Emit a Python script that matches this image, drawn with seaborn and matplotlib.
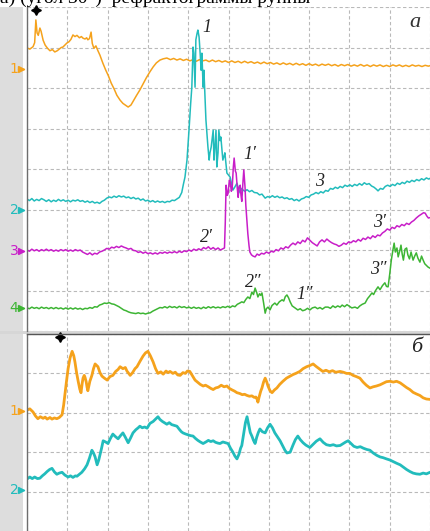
import matplotlib
matplotlib.use("Agg")
import matplotlib.pyplot as plt
from matplotlib.patches import Rectangle
import matplotlib.transforms as mtransforms
import pandas as pd
import seaborn as sns

sns.set_theme(style="white")
plt.rcParams["font.family"] = ["DejaVu Sans"]

# ---- panel "a": four channels, (time [div], level [div]) ----
ch1_a = [(0.00,6.99),(0.07,6.96),(0.15,7.02),(0.19,7.12),(0.22,7.68),(0.25,7.36),(0.28,7.30),(0.32,7.48),
         (0.35,7.40),(0.40,7.18),(0.45,7.06),(0.51,6.98),(0.57,6.92),(0.63,6.95),(0.69,6.89),(0.75,6.92),
         (0.80,6.96),(0.85,7.00),(0.89,7.01),(0.94,7.06),(0.99,7.11),(1.04,7.14),(1.09,7.20),(1.14,7.31),
         (1.19,7.27),(1.24,7.30),(1.30,7.24),(1.35,7.27),(1.39,7.23),(1.44,7.21),(1.48,7.24),(1.51,7.19),
         (1.55,7.22),(1.59,7.38),(1.62,7.10),(1.66,6.98),(1.71,7.04),(1.76,6.92),(1.81,6.81),(1.88,6.62),
         (1.95,6.45),(2.02,6.30),(2.09,6.12),(2.16,5.98),(2.23,5.82),(2.31,5.70),(2.38,5.62),(2.45,5.57),
         (2.51,5.53),(2.58,5.58),(2.65,5.70),(2.72,5.82),(2.80,5.95),(2.88,6.10),(2.96,6.25),(3.05,6.40),
         (3.13,6.52),(3.21,6.62),(3.30,6.69),(3.38,6.72),(3.47,6.74),(3.56,6.70),(3.64,6.73),(3.72,6.69),
         (3.80,6.72),(3.88,6.68),(3.96,6.71),(4.04,6.67),(4.12,6.70),(4.20,6.66),(4.28,6.70),(4.36,6.67),
         (4.44,6.69),(4.52,6.65),(4.60,6.69),(4.68,6.65),(4.76,6.68),(4.84,6.64),(4.92,6.67),(5.00,6.63),
         (5.08,6.67),(5.16,6.63),(5.24,6.66),(5.32,6.62),(5.40,6.66),(5.48,6.62),(5.56,6.65),(5.64,6.61),
         (5.72,6.64),(5.80,6.60),(5.88,6.64),(5.96,6.60),(6.04,6.63),(6.12,6.59),(6.20,6.62),(6.28,6.58),
         (6.36,6.62),(6.44,6.58),(6.52,6.61),(6.60,6.57),(6.68,6.61),(6.76,6.57),(6.84,6.60),(6.92,6.56),
         (7.00,6.60),(7.08,6.56),(7.16,6.59),(7.24,6.55),(7.32,6.59),(7.40,6.56),(7.48,6.59),(7.56,6.55),
         (7.64,6.58),(7.72,6.54),(7.80,6.58),(7.88,6.55),(7.96,6.58),(8.04,6.54),(8.12,6.57),(8.20,6.54),
         (8.28,6.58),(8.36,6.54),(8.44,6.57),(8.52,6.53),(8.60,6.57),(8.68,6.54),(8.76,6.57),(8.84,6.53),
         (8.92,6.56),(9.00,6.53),(9.08,6.57),(9.16,6.54),(9.24,6.57),(9.32,6.53),(9.40,6.56),(9.48,6.53),
         (9.56,6.57),(9.64,6.54),(9.72,6.56),(9.80,6.53),(9.88,6.56),(9.96,6.54),(10.0,6.55)]

ch2_a = [(0.00,3.26),(0.06,3.22),(0.12,3.27),(0.18,3.21),(0.24,3.25),(0.30,3.22),(0.36,3.27),(0.42,3.24),
         (0.48,3.20),(0.54,3.24),(0.60,3.19),(0.66,3.23),(0.72,3.20),(0.78,3.25),(0.84,3.21),(0.90,3.24),
         (0.96,3.20),(1.02,3.23),(1.08,3.19),(1.14,3.23),(1.20,3.21),(1.26,3.24),(1.32,3.20),(1.38,3.22),
         (1.44,3.18),(1.50,3.21),(1.56,3.17),(1.62,3.20),(1.68,3.16),(1.74,3.18),(1.80,3.15),(1.86,3.20),
         (1.92,3.23),(1.98,3.28),(2.04,3.31),(2.10,3.29),(2.16,3.33),(2.22,3.30),(2.28,3.34),(2.34,3.31),
         (2.40,3.33),(2.46,3.29),(2.52,3.31),(2.58,3.27),(2.64,3.30),(2.70,3.26),(2.76,3.28),(2.82,3.23),
         (2.88,3.26),(2.94,3.21),(3.00,3.23),(3.06,3.19),(3.12,3.22),(3.18,3.18),(3.24,3.21),(3.30,3.18),
         (3.36,3.20),(3.42,3.17),(3.48,3.20),(3.54,3.19),(3.60,3.23),(3.66,3.22),(3.72,3.26),(3.78,3.30),
         (3.84,3.42),(3.88,3.62),(3.92,3.80),(3.97,4.22),(4.02,4.96),(4.06,5.60),(4.09,6.02),(4.12,7.01),
         (4.14,6.86),(4.17,6.02),(4.19,7.19),(4.22,7.35),(4.24,7.43),(4.27,7.26),(4.30,6.80),(4.32,6.44),
         (4.34,6.86),(4.37,6.02),(4.39,6.44),(4.42,5.70),(4.44,5.21),(4.47,4.80),(4.49,4.54),(4.52,4.22),
         (4.54,4.40),(4.57,4.54),(4.60,4.80),(4.62,4.96),(4.64,4.22),(4.66,4.50),(4.69,4.96),(4.71,4.05),
         (4.74,4.40),(4.76,4.96),(4.79,4.70),(4.81,4.79),(4.84,4.45),(4.86,4.22),(4.89,4.32),(4.91,4.40),
         (4.94,4.10),(4.96,3.90),(5.00,3.85),(5.04,3.80),(5.08,3.62),(5.11,3.48),(5.16,3.56),(5.21,3.65),
         (5.25,3.50),(5.29,3.41),(5.33,3.52),(5.36,3.48),(5.41,3.45),(5.46,3.49),(5.52,3.44),(5.58,3.47),
         (5.64,3.42),(5.71,3.41),(5.77,3.36),(5.83,3.38),(5.91,3.28),(5.97,3.32),(6.03,3.30),(6.09,3.34),
         (6.15,3.30),(6.21,3.33),(6.27,3.29),(6.33,3.31),(6.39,3.27),(6.45,3.29),(6.51,3.25),(6.57,3.27),
         (6.63,3.22),(6.69,3.25),(6.75,3.21),(6.81,3.26),(6.87,3.28),(6.93,3.32),(6.99,3.30),(7.05,3.36),
         (7.11,3.38),(7.17,3.42),(7.23,3.39),(7.29,3.44),(7.35,3.41),(7.41,3.47),(7.47,3.45),(7.53,3.52),
         (7.59,3.50),(7.65,3.55),(7.71,3.52),(7.77,3.57),(7.83,3.54),(7.89,3.60),(7.95,3.57),(8.01,3.61),
         (8.07,3.57),(8.13,3.62),(8.19,3.59),(8.25,3.64),(8.31,3.60),(8.37,3.66),(8.43,3.62),(8.49,3.64),
         (8.55,3.58),(8.61,3.55),(8.67,3.50),(8.71,3.46),(8.77,3.52),(8.83,3.50),(8.89,3.57),(8.95,3.60),
         (9.01,3.57),(9.07,3.62),(9.13,3.59),(9.19,3.65),(9.25,3.62),(9.31,3.67),(9.37,3.64),(9.43,3.70),
         (9.49,3.67),(9.55,3.72),(9.61,3.69),(9.67,3.74),(9.73,3.71),(9.79,3.76),(9.85,3.73),(9.91,3.78),
         (9.97,3.75),(10.0,3.77)]

ch3_a = [(0.00,2.00),(0.06,1.97),(0.12,2.02),(0.18,1.98),(0.24,2.01),(0.30,1.97),(0.36,2.01),(0.42,1.98),
         (0.48,2.02),(0.54,1.98),(0.60,2.01),(0.66,1.97),(0.72,2.00),(0.78,1.97),(0.84,2.01),(0.90,1.98),
         (0.96,2.01),(1.02,1.97),(1.08,2.00),(1.14,1.97),(1.20,2.01),(1.26,1.98),(1.32,2.00),(1.38,1.95),
         (1.44,1.92),(1.50,1.89),(1.56,1.93),(1.62,1.88),(1.68,1.92),(1.74,1.90),(1.80,1.95),(1.86,1.97),
         (1.92,2.00),(1.98,2.04),(2.04,2.02),(2.10,2.07),(2.16,2.05),(2.22,2.09),(2.28,2.06),(2.34,2.10),
         (2.40,2.07),(2.46,2.05),(2.52,2.02),(2.58,2.04),(2.64,1.99),(2.70,1.98),(2.76,1.94),(2.82,1.96),
         (2.88,1.92),(2.94,1.95),(3.00,1.91),(3.06,1.93),(3.12,1.90),(3.18,1.93),(3.24,1.90),(3.30,1.94),
         (3.36,1.92),(3.42,1.95),(3.48,1.92),(3.54,1.95),(3.60,1.93),(3.66,1.96),(3.72,1.93),(3.78,1.97),
         (3.84,1.94),(3.90,1.98),(3.96,1.96),(4.02,2.00),(4.08,1.97),(4.14,2.02),(4.20,1.99),(4.26,2.03),
         (4.32,2.00),(4.38,2.06),(4.44,2.03),(4.50,2.08),(4.56,2.02),(4.62,2.06),(4.68,2.01),(4.74,2.05),
         (4.80,2.00),(4.86,2.03),(4.90,2.05),(4.92,2.67),(4.94,3.60),(4.97,3.35),(4.99,3.40),(5.02,3.72),
         (5.04,3.70),(5.07,3.45),(5.09,3.50),(5.12,4.05),(5.14,4.27),(5.17,3.95),(5.19,3.90),(5.22,3.50),
         (5.24,3.30),(5.26,3.55),(5.29,3.60),(5.31,3.35),(5.33,3.20),(5.36,3.70),(5.38,3.98),(5.41,3.55),
         (5.43,3.10),(5.46,2.70),(5.48,2.40),(5.51,2.10),(5.53,1.95),(5.57,1.88),(5.61,1.85),(5.66,1.83),
         (5.71,1.90),(5.76,1.87),(5.82,1.92),(5.88,1.90),(5.94,1.95),(6.00,1.92),(6.06,1.97),(6.12,1.95),
         (6.18,2.01),(6.24,1.98),(6.30,2.05),(6.36,2.02),(6.42,2.08),(6.48,2.05),(6.54,2.12),(6.60,2.17),
         (6.66,2.13),(6.72,2.20),(6.78,2.16),(6.84,2.24),(6.90,2.20),(6.96,2.30),(7.02,2.24),(7.08,2.18),
         (7.14,2.14),(7.20,2.10),(7.26,2.20),(7.32,2.25),(7.38,2.20),(7.44,2.27),(7.50,2.22),(7.56,2.18),
         (7.62,2.15),(7.68,2.13),(7.74,2.09),(7.80,2.12),(7.86,2.17),(7.92,2.14),(7.98,2.20),(8.04,2.18),
         (8.10,2.23),(8.16,2.20),(8.22,2.26),(8.28,2.22),(8.34,2.29),(8.40,2.26),(8.46,2.32),(8.52,2.28),
         (8.58,2.35),(8.64,2.31),(8.70,2.37),(8.76,2.35),(8.82,2.42),(8.88,2.46),(8.94,2.52),(9.00,2.49),
         (9.06,2.56),(9.12,2.53),(9.18,2.60),(9.24,2.57),(9.30,2.63),(9.36,2.60),(9.42,2.66),(9.48,2.63),
         (9.54,2.69),(9.60,2.73),(9.66,2.79),(9.72,2.84),(9.78,2.88),(9.84,2.92),(9.88,2.91),(9.92,2.84),
         (9.96,2.79),(10.0,2.80)]

ch4_a = [(0.00,0.57),(0.06,0.55),(0.12,0.59),(0.18,0.56),(0.24,0.58),(0.30,0.55),(0.36,0.59),(0.42,0.56),
         (0.48,0.58),(0.54,0.55),(0.60,0.58),(0.66,0.55),(0.72,0.58),(0.78,0.55),(0.84,0.57),(0.90,0.54),
         (0.96,0.57),(1.02,0.54),(1.08,0.57),(1.14,0.54),(1.20,0.57),(1.26,0.54),(1.32,0.56),(1.38,0.53),
         (1.44,0.56),(1.50,0.55),(1.56,0.58),(1.62,0.56),(1.68,0.60),(1.74,0.59),(1.80,0.64),(1.86,0.66),
         (1.92,0.69),(1.98,0.68),(2.04,0.70),(2.10,0.67),(2.16,0.66),(2.22,0.63),(2.28,0.60),(2.34,0.56),
         (2.40,0.52),(2.46,0.50),(2.52,0.47),(2.58,0.45),(2.64,0.44),(2.70,0.43),(2.76,0.45),(2.82,0.43),
         (2.88,0.44),(2.94,0.42),(3.00,0.44),(3.06,0.45),(3.12,0.49),(3.18,0.52),(3.24,0.55),(3.30,0.58),
         (3.36,0.57),(3.42,0.60),(3.48,0.57),(3.54,0.61),(3.60,0.58),(3.66,0.60),(3.72,0.57),(3.78,0.61),
         (3.84,0.58),(3.90,0.60),(3.96,0.57),(4.02,0.59),(4.08,0.56),(4.14,0.59),(4.20,0.56),(4.26,0.58),
         (4.32,0.55),(4.38,0.59),(4.44,0.56),(4.50,0.60),(4.56,0.57),(4.62,0.60),(4.68,0.57),(4.74,0.59),
         (4.80,0.57),(4.86,0.60),(4.92,0.58),(4.98,0.61),(5.04,0.58),(5.10,0.62),(5.16,0.60),(5.22,0.66),
         (5.28,0.69),(5.33,0.72),(5.38,0.70),(5.43,0.78),(5.48,0.84),(5.53,0.80),(5.58,0.96),(5.62,0.90),
         (5.66,1.06),(5.70,0.95),(5.73,0.84),(5.77,0.92),(5.80,0.88),(5.83,0.94),(5.87,0.70),(5.91,0.44),
         (5.94,0.55),(5.98,0.59),(6.03,0.52),(6.08,0.63),(6.15,0.69),(6.20,0.64),(6.26,0.72),(6.33,0.77),
         (6.37,0.74),(6.41,0.85),(6.45,0.89),(6.49,0.82),(6.53,0.72),(6.58,0.62),(6.65,0.57),(6.72,0.52),
         (6.78,0.55),(6.84,0.50),(6.90,0.52),(6.96,0.56),(7.02,0.52),(7.08,0.57),(7.15,0.59),(7.21,0.55),
         (7.27,0.58),(7.33,0.54),(7.40,0.59),(7.47,0.59),(7.53,0.56),(7.59,0.62),(7.65,0.58),(7.71,0.62),
         (7.77,0.59),(7.82,0.64),(7.88,0.60),(7.94,0.65),(8.00,0.61),(8.06,0.57),(8.14,0.59),(8.20,0.56),
         (8.26,0.62),(8.32,0.66),(8.39,0.69),(8.45,0.80),(8.50,0.86),(8.56,0.94),(8.60,0.90),(8.65,1.00),
         (8.71,1.09),(8.76,1.02),(8.82,1.12),(8.88,1.19),(8.92,1.10),(8.96,1.09),(9.00,1.40),(9.04,1.75),
         (9.08,2.00),(9.11,2.17),(9.14,1.95),(9.18,2.05),(9.21,1.83),(9.25,1.98),(9.28,2.12),(9.31,1.90),
         (9.34,1.75),(9.38,2.02),(9.42,2.05),(9.45,1.88),(9.49,1.78),(9.53,1.95),(9.58,1.75),(9.62,1.85),
         (9.66,1.93),(9.70,1.80),(9.75,1.70),(9.79,1.85),(9.83,1.75),(9.87,1.66),(9.91,1.62),(9.95,1.58),
         (10.0,1.55)]

# ---- panel "б": two channels ----
ch1_b = [(0.00,3.07),(0.07,3.10),(0.12,3.05),(0.15,3.02),(0.21,2.92),(0.27,2.85),(0.33,2.90),(0.40,2.86),
         (0.45,2.89),(0.50,2.84),(0.57,2.88),(0.62,2.84),(0.68,2.87),(0.74,2.85),(0.80,2.88),(0.87,2.95),
         (0.91,3.20),(0.94,3.46),(0.98,3.80),(1.02,4.12),(1.07,4.40),(1.12,4.56),(1.16,4.45),(1.19,4.29),
         (1.23,4.02),(1.27,3.80),(1.31,3.60),(1.34,3.51),(1.37,3.75),(1.39,3.88),(1.42,3.95),(1.44,3.90),
         (1.47,3.78),(1.49,3.65),(1.51,3.56),(1.56,3.80),(1.61,3.95),(1.65,4.12),(1.69,4.24),(1.73,4.20),
         (1.76,4.17),(1.81,4.02),(1.86,3.93),(1.92,3.88),(1.99,3.83),(2.06,3.92),(2.13,3.95),(2.20,4.05),
         (2.26,4.10),(2.31,4.17),(2.38,4.12),(2.44,4.15),(2.48,4.06),(2.56,3.95),(2.62,4.02),(2.68,4.12),
         (2.73,4.17),(2.80,4.30),(2.88,4.44),(2.94,4.52),(3.00,4.56),(3.06,4.45),(3.13,4.29),(3.19,4.12),
         (3.25,4.00),(3.32,4.04),(3.38,3.98),(3.45,4.06),(3.50,4.02),(3.55,4.05),(3.62,4.00),(3.68,4.03),
         (3.74,3.96),(3.80,3.95),(3.87,4.02),(3.93,4.00),(3.98,4.06),(4.04,4.05),(4.10,3.95),(4.17,3.83),
         (4.23,3.78),(4.30,3.72),(4.37,3.68),(4.43,3.70),(4.50,3.66),(4.56,3.62),(4.62,3.59),(4.68,3.63),
         (4.75,3.65),(4.82,3.70),(4.89,3.66),(4.96,3.68),(5.02,3.62),(5.09,3.58),(5.15,3.55),(5.21,3.51),
         (5.28,3.49),(5.34,3.46),(5.40,3.47),(5.46,3.44),(5.52,3.42),(5.58,3.43),(5.64,3.39),(5.68,3.40),
         (5.71,3.34),(5.73,3.27),(5.76,3.40),(5.80,3.55),(5.83,3.63),(5.87,3.78),(5.91,3.88),(5.95,3.78),
         (5.98,3.68),(6.03,3.56),(6.08,3.51),(6.14,3.58),(6.20,3.63),(6.27,3.72),(6.35,3.80),(6.44,3.88),
         (6.53,3.93),(6.60,3.97),(6.67,4.00),(6.77,4.05),(6.85,4.12),(6.94,4.17),(7.02,4.20),(7.10,4.24),
         (7.17,4.18),(7.25,4.12),(7.34,4.05),(7.42,4.08),(7.50,4.04),(7.58,4.07),(7.66,4.03),(7.77,4.05),
         (7.85,4.03),(7.93,4.00),(8.01,4.00),(8.09,3.95),(8.17,3.92),(8.26,3.88),(8.34,3.78),(8.42,3.70),
         (8.51,3.63),(8.59,3.66),(8.67,3.68),(8.76,3.71),(8.84,3.75),(8.92,3.79),(9.01,3.80),(9.09,3.78),
         (9.17,3.80),(9.26,3.76),(9.34,3.70),(9.42,3.64),(9.50,3.59),(9.58,3.52),(9.66,3.48),(9.75,3.44),
         (9.83,3.38),(9.91,3.35),(10.0,3.34)]

ch2_b = [(0.00,1.32),(0.07,1.37),(0.13,1.33),(0.19,1.37),(0.26,1.33),(0.32,1.34),(0.38,1.40),(0.44,1.45),
         (0.50,1.51),(0.56,1.56),(0.62,1.59),(0.68,1.50),(0.74,1.44),(0.80,1.47),(0.87,1.49),(0.94,1.42),
         (1.02,1.37),(1.08,1.40),(1.14,1.36),(1.20,1.40),(1.24,1.39),(1.30,1.44),(1.36,1.49),(1.43,1.58),
         (1.49,1.68),(1.55,1.85),(1.61,2.05),(1.65,1.98),(1.69,1.88),(1.74,1.68),(1.78,1.80),(1.81,1.93),
         (1.85,2.10),(1.89,2.29),(1.95,2.26),(2.01,2.22),(2.07,2.35),(2.13,2.46),(2.19,2.40),(2.26,2.34),
         (2.32,2.42),(2.38,2.49),(2.44,2.38),(2.51,2.24),(2.57,2.36),(2.63,2.49),(2.70,2.57),(2.76,2.62),
         (2.80,2.66),(2.86,2.62),(2.92,2.64),(2.98,2.61),(3.05,2.73),(3.13,2.78),(3.19,2.84),(3.25,2.90),
         (3.30,2.83),(3.36,2.78),(3.42,2.74),(3.47,2.71),(3.53,2.75),(3.59,2.70),(3.66,2.68),(3.72,2.66),
         (3.78,2.58),(3.83,2.52),(3.87,2.49),(3.94,2.46),(4.00,2.44),(4.06,2.42),(4.12,2.41),(4.18,2.35),
         (4.24,2.30),(4.30,2.26),(4.37,2.22),(4.44,2.26),(4.50,2.30),(4.56,2.27),(4.62,2.29),(4.68,2.25),
         (4.74,2.23),(4.79,2.22),(4.86,2.26),(4.93,2.24),(4.99,2.22),(5.05,2.10),(5.11,2.00),(5.16,1.90),
         (5.21,1.83),(5.26,1.95),(5.30,2.10),(5.33,2.17),(5.38,2.50),(5.42,2.75),(5.46,2.90),(5.50,2.70),
         (5.54,2.50),(5.58,2.41),(5.62,2.30),(5.66,2.22),(5.70,2.38),(5.74,2.50),(5.78,2.59),(5.84,2.52),
         (5.91,2.49),(5.97,2.62),(6.03,2.71),(6.09,2.62),(6.15,2.49),(6.21,2.40),(6.28,2.29),(6.35,2.15),
         (6.40,2.05),(6.45,1.98),(6.53,2.00),(6.60,2.18),(6.66,2.32),(6.72,2.41),(6.78,2.32),(6.85,2.24),
         (6.92,2.18),(7.02,2.12),(7.10,2.20),(7.18,2.28),(7.27,2.34),(7.35,2.25),(7.43,2.19),(7.52,2.17),
         (7.60,2.19),(7.68,2.16),(7.77,2.17),(7.85,2.22),(7.91,2.26),(7.97,2.29),(8.04,2.22),(8.11,2.15),
         (8.19,2.12),(8.27,2.14),(8.35,2.10),(8.43,2.07),(8.51,2.05),(8.59,1.98),(8.68,1.92),(8.76,1.88),
         (8.84,1.86),(8.92,1.83),(9.01,1.80),(9.09,1.76),(9.17,1.72),(9.26,1.68),(9.34,1.62),(9.42,1.56),
         (9.50,1.51),(9.58,1.47),(9.66,1.45),(9.75,1.44),(9.83,1.47),(9.91,1.45),(10.0,1.49)]

# channel zero markers (level in div) and trigger positions (time in div)
markers_a = [("1", 6.47), ("2", 2.99), ("3", 1.98), ("4", 0.57)]
markers_b = [("1", 3.05), ("2", 1.05)]
trigger_a = 0.22
trigger_b = 0.82

# curve annotations on panel "a"
notes_a = [("1", 4.47, 7.50), ("1\u2032", 5.53, 4.35), ("3", 7.27, 3.70), ("3\u2032", 8.74, 2.69),
           ("2\u2032", 4.45, 2.30), ("2\u2033", 5.61, 1.19), ("1\u2033", 6.90, 0.89), ("3\u2033", 8.71, 1.51)]

ORANGE = "#f5a21c"
CYAN = "#22bcbc"
MAGENTA = "#c81ec8"
GREEN = "#3db534"
colors_a = [ORANGE, CYAN, MAGENTA, GREEN]
colors_b = [ORANGE, CYAN]

W, H = 430, 531
fig = plt.figure(figsize=(W / 100, H / 100), dpi=100)
fig.patch.set_facecolor("white")

# grey side strip of the scope screen
fig.add_artist(Rectangle((0, 0), 23 / W, 1 - 7 / H, transform=fig.transFigure,
                         facecolor="#dddddd", edgecolor="none", zorder=0))
# band separating the two screens
fig.add_artist(Rectangle((0, 1 - 334 / H), 1, 3 / H, transform=fig.transFigure,
                         facecolor="#d6d6d6", edgecolor="none", zorder=0))

ax_a = fig.add_axes([27 / W, 200 / H, 403 / W, 324 / H])
ax_b = fig.add_axes([27 / W, 0, 403 / W, 197 / H])


def style_screen(ax, ymin, ymax, ny):
    ax.set_xlim(0, 10)
    ax.set_ylim(ymin, ymax)
    ax.set_xticks(range(0, 11))
    ax.set_yticks(range(0, ny + 1))
    ax.grid(True, color="#b9b9b9", linestyle=(0, (3.0, 2.2)), linewidth=0.8)
    ax.tick_params(length=0, labelbottom=False, labelleft=False)
    ax.set_xlabel("")
    ax.set_ylabel("")
    for side in ["top", "right", "bottom"]:
        ax.spines[side].set_visible(False)
    ax.spines["left"].set_color("#6e6e6e")
    ax.spines["left"].set_linewidth(1.0)
    ax.set_facecolor("white")


def draw_trace(ax, pts, color, lw):
    df = pd.DataFrame(pts, columns=["t", "v"])
    sns.lineplot(data=df, x="t", y="v", ax=ax, color=color, linewidth=lw,
                 sort=False, estimator=None)


for pts, c in zip([ch1_a, ch2_a, ch3_a, ch4_a], colors_a):
    draw_trace(ax_a, pts, c, 1.1)
for pts, c in zip([ch1_b, ch2_b], colors_b):
    draw_trace(ax_b, pts, c, 2.0)

style_screen(ax_a, 0, 8, 8)
style_screen(ax_b, (539 - 531) / 41, 5, 5)
ax_b.spines["top"].set_visible(True)
ax_b.spines["top"].set_color("#555555")
ax_b.spines["top"].set_linewidth(1.0)

# channel markers in the side strip
for ax, marks, cols in [(ax_a, markers_a, colors_a), (ax_b, markers_b, colors_b)]:
    tr = mtransforms.blended_transform_factory(fig.transFigure, ax.transData)
    for (lab, lev), c in zip(marks, cols):
        ax.text(14 / W, lev, lab, transform=tr, ha="center", va="center",
                color=c, fontsize=10, clip_on=False)
        ax.plot([21 / W], [lev], transform=tr, marker=">", ms=4, color=c,
                clip_on=False)
        ax.plot([18 / W, 24 / W], [lev, lev], transform=tr, lw=1.0, color=c,
                clip_on=False)

# trigger marks at the top of each screen
ax_a.plot([trigger_a], [7.93], marker=(4, 1, 0), ms=7, color="black", clip_on=False)
ax_b.plot([trigger_b], [4.92], marker=(4, 1, 0), ms=7, color="black", clip_on=False)

serif = ["Liberation Serif", "DejaVu Serif"]
for lab, x, y in notes_a:
    ax_a.text(x, y, lab, ha="center", va="center", fontsize=13, style="italic",
              family=serif, color="#222222")
ax_a.text(9.63, 7.62, "a", ha="center", va="center", fontsize=16, style="italic",
          family=serif, color="#333333")
ax_b.text(9.68, 4.66, "\u0431", ha="center", va="center", fontsize=16, style="italic",
          family=serif, color="#222222")

# caption line running above the screens
fig.text(0.0, 1 - 3 / H, "\u0430) (\u0443\u0433\u043e\u043b 30\u00b0)  \u0440\u0435\u0444\u0440\u0430\u043a\u0442\u043e\u0433\u0440\u0430\u043c\u043c\u044b \u0440\u0443\u043f\u043f\u044b",
         ha="left", va="baseline", fontsize=14, family=serif, color="black")

fig.savefig("out.png", dpi=100, facecolor="white")
